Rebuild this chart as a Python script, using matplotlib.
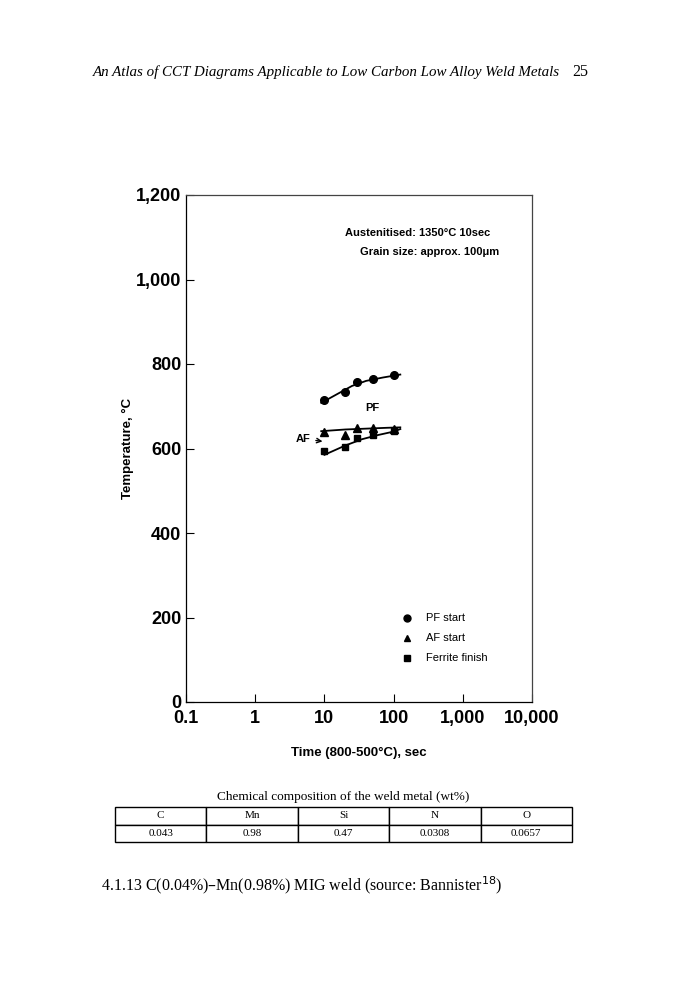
import matplotlib.pyplot as plt
import numpy as np

# Data
pf_time = [10, 20, 30, 50, 100]
pf_temp = [715, 734, 757, 765, 774]
af_time = [10, 20, 30, 50, 100]
af_temp = [639, 632, 649, 649, 647]
ff_time = [10, 20, 30, 50, 100]
ff_temp = [594, 604, 625, 632, 641]

# hand drawn curves through the points
pf_curve_t = [9, 15, 25, 40, 70, 125]
pf_curve_T = [708, 728, 748, 760, 768, 775]
af_curve_t = [9, 20, 40, 80, 125]
af_curve_T = [641, 645, 647, 649, 650]
ff_curve_t = [10, 20, 35, 60, 100, 125]
ff_curve_T = [585, 607, 622, 632, 640, 646]

xticks = [0.1, 1, 10, 100, 1000, 10000]
xticklabels = ['0.1', '1', '10', '100', '1,000', '10,000']
yticks = [0, 200, 400, 600, 800, 1000, 1200]
yticklabels = ['0', '200', '400', '600', '800', '1,000', '1,200']

elements = ['C', 'Mn', 'Si', 'N', 'O']
composition = ['0.043', '0.98', '0.47', '0.0308', '0.0657']

plt.rcParams['font.family'] = ['Liberation Sans', 'DejaVu Sans']

fig = plt.figure(figsize=(6.84, 10), dpi=100)
ax = fig.add_axes([186/684, 1 - 702/1000, 346/684, 507/1000])

ax.plot(pf_curve_t, pf_curve_T, color='black', lw=1.3)
ax.plot(af_curve_t, af_curve_T, color='black', lw=1.3)
ax.plot(ff_curve_t, ff_curve_T, color='black', lw=1.3)
ax.plot(pf_time, pf_temp, 'o', color='black', ms=5.5)
ax.plot(af_time, af_temp, '^', color='black', ms=5.5)
ax.plot(ff_time, ff_temp, 's', color='black', ms=4.5)

ax.set_xscale('log')
ax.set_xlim(0.1, 10000)
ax.set_ylim(0, 1200)
ax.set_xticks(xticks)
ax.set_xticklabels(xticklabels, fontsize=13, fontweight='bold')
ax.minorticks_off()
ax.set_yticks(yticks)
ax.set_yticklabels(yticklabels, fontsize=13, fontweight='bold')
ax.tick_params(direction='in', length=6, width=0.8)
ax.tick_params(axis='x', pad=6)
for s in ax.spines.values():
    s.set_linewidth(0.9)
ax.spines['top'].set_color('#444444')
ax.spines['right'].set_color('#444444')

ax.set_xlabel('Time (800-500°C), sec', fontsize=9.5, fontweight='bold', labelpad=14)
ax.set_ylabel('Temperature, °C', fontsize=9.5, fontweight='bold', labelpad=1)

ax.text(0.88, 0.925, 'Austenitised: 1350°C 10sec', transform=ax.transAxes,
        fontsize=8, fontweight='bold', ha='right', va='center')
ax.text(0.905, 0.888, 'Grain size: approx. 100μm', transform=ax.transAxes,
        fontsize=8, fontweight='bold', ha='right', va='center')
ax.text(50, 697, 'PF', fontsize=8, fontweight='bold', ha='center', va='center')
ax.annotate('AF', xy=(10.3, 616), xytext=(4.9, 623), fontsize=8, fontweight='bold',
            ha='center', va='center',
            arrowprops=dict(arrowstyle='->', color='black', lw=1))

# legend drawn as text rows
legend_rows = [('o', 'PF start'), ('^', 'AF start'), ('s', 'Ferrite finish')]
for i, (m, lab) in enumerate(legend_rows):
    yy = 0.165 - i * 0.039
    ax.plot([0.639], [yy], m, color='black', ms=5 if m != 's' else 4,
            transform=ax.transAxes, clip_on=False)
    ax.text(0.695, yy, lab, transform=ax.transAxes, fontsize=8, va='center')

# page header
fig.text(0.136, 0.928, 'An Atlas of CCT Diagrams Applicable to Low Carbon Low Alloy Weld Metals',
         fontsize=10.8, family='Liberation Serif', style='italic', va='center')
fig.text(0.836, 0.928, '25', fontsize=11.5, family='Liberation Serif', va='center')

# composition table
fig.text(0.502, 0.203, 'Chemical composition of the weld metal (wt%)', fontsize=9.5,
         family='Liberation Serif', ha='center', va='center')
tab_ax = fig.add_axes([115/684, 1 - 842/1000, 457/684, 35/1000])
tab_ax.axis('off')
tbl = tab_ax.table(cellText=[elements, composition], cellLoc='center',
                   bbox=[0, 0, 1, 1])
for cell in tbl.get_celld().values():
    cell.set_linewidth(1.0)
    cell.get_text().set_fontsize(8)
    cell.get_text().set_family('Liberation Serif')

# caption
fig.text(0.147, 0.115, '4.1.13 C(0.04%)–Mn(0.98%) MIG weld (source: Bannister$^{18}$)',
         fontsize=11.5, family='Liberation Serif', va='center')

fig.savefig('out.png', dpi=100)
